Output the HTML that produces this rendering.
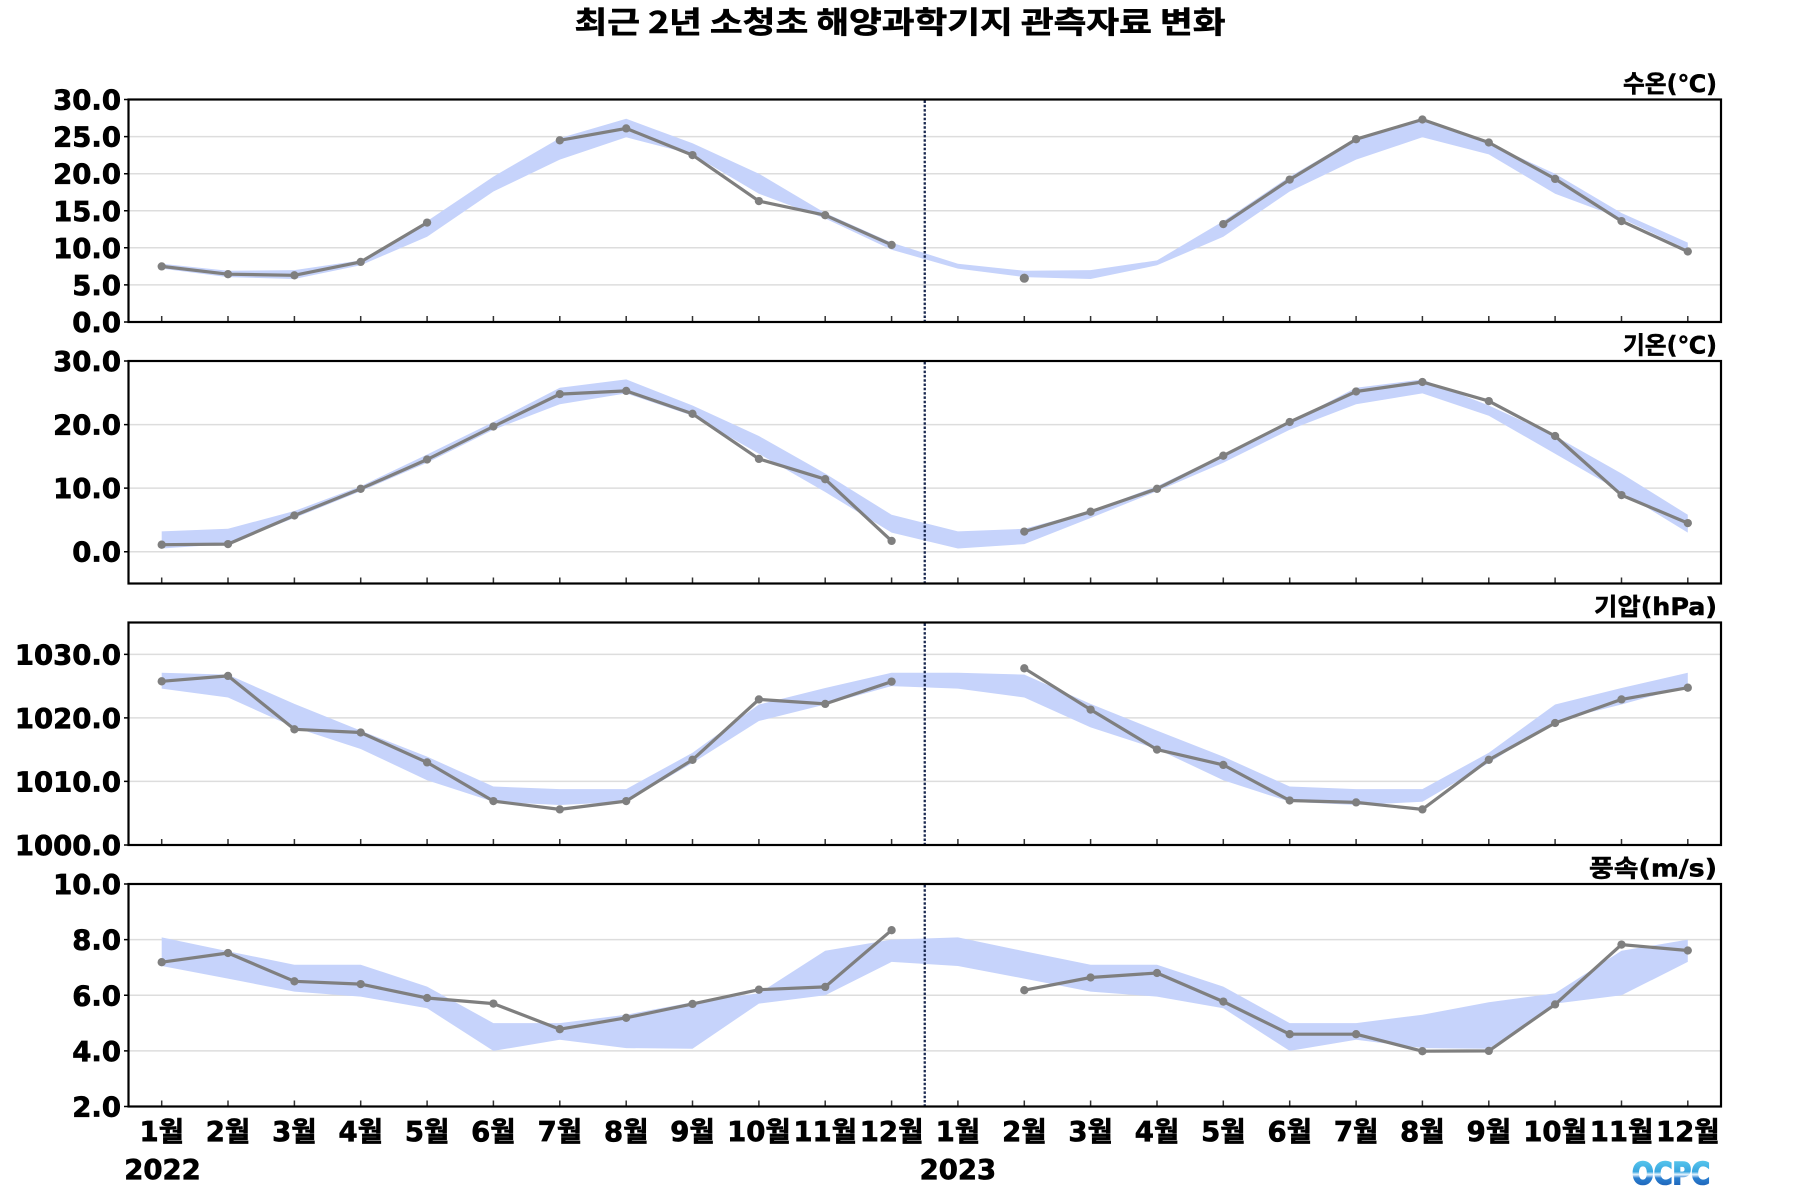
<!DOCTYPE html>
<html>
<head>
<meta charset="utf-8">
<style>
  html, body { margin:0; padding:0; background:#ffffff; }
  svg { display:block; }
  .lbl { font-family:"DejaVu Sans","Noto Sans CJK KR",sans-serif; font-weight:bold; fill:#000; stroke:#000; stroke-width:0.7; }
  .kr { font-family:"Noto Sans CJK KR","DejaVu Sans",sans-serif; font-weight:bold; fill:#000; stroke:#000; stroke-width:0.6; }
</style>
</head>
<body>
<svg width="1800" height="1200" viewBox="0 0 1800 1200" xmlns="http://www.w3.org/2000/svg">
  <defs>
    <marker id="m" viewBox="-5 -5 10 10" markerUnits="userSpaceOnUse" markerWidth="9" markerHeight="9" refX="0" refY="0">
      <circle r="4.6" fill="#7f7f7f"/>
    </marker>
    <g id="xt">
      <path d="M161.7 0v-6M228.0 0v-6M294.4 0v-6M360.7 0v-6M427.1 0v-6M493.4 0v-6M559.8 0v-6M626.2 0v-6M692.5 0v-6M758.9 0v-6M825.2 0v-6M891.6 0v-6M957.9 0v-6M1024.3 0v-6M1090.6 0v-6M1157.0 0v-6M1223.3 0v-6M1289.7 0v-6M1356.1 0v-6M1422.4 0v-6M1488.8 0v-6M1555.1 0v-6M1621.5 0v-6M1687.8 0v-6" stroke="#333" stroke-width="1.5" fill="none"/>
    </g>
    <linearGradient id="lg" x1="0" y1="0" x2="0" y2="1">
      <stop offset="0" stop-color="#5fd0f0"/>
      <stop offset="0.42" stop-color="#3aa6e0"/>
      <stop offset="0.5" stop-color="#e8f6ff"/>
      <stop offset="0.6" stop-color="#2a7fd0"/>
      <stop offset="1" stop-color="#1650a8"/>
    </linearGradient>
  </defs>

  <rect x="0" y="0" width="1800" height="1200" fill="#fff"/>

  <!-- Title -->
  <text class="kr" x="900" y="33" font-size="30" text-anchor="middle" textLength="651" lengthAdjust="spacingAndGlyphs">최근 2년 소청초 해양과학기지 관측자료 변화</text>

  <!-- Gridlines -->
  <g stroke="#dddddd" stroke-width="1.5">
    <line x1="128.5" x2="1721" y1="136.6" y2="136.6"/>
    <line x1="128.5" x2="1721" y1="173.7" y2="173.7"/>
    <line x1="128.5" x2="1721" y1="210.75" y2="210.75"/>
    <line x1="128.5" x2="1721" y1="247.8" y2="247.8"/>
    <line x1="128.5" x2="1721" y1="284.9" y2="284.9"/>

    <line x1="128.5" x2="1721" y1="424.6" y2="424.6"/>
    <line x1="128.5" x2="1721" y1="488.1" y2="488.1"/>
    <line x1="128.5" x2="1721" y1="551.7" y2="551.7"/>

    <line x1="128.5" x2="1721" y1="654.4" y2="654.4"/>
    <line x1="128.5" x2="1721" y1="717.9" y2="717.9"/>
    <line x1="128.5" x2="1721" y1="781.4" y2="781.4"/>

    <line x1="128.5" x2="1721" y1="939.6" y2="939.6"/>
    <line x1="128.5" x2="1721" y1="995.3" y2="995.3"/>
    <line x1="128.5" x2="1721" y1="1050.9" y2="1050.9"/>
  </g>

  <!-- Bands -->
  <g fill="#c6d3fb" stroke="none">
    <polygon points="161.7,263.8 228.0,270.8 294.4,270.1 360.7,260.4 427.1,221.1 493.4,176.6 559.8,138.1 626.2,118.8 692.5,143.3 758.9,173.7 825.2,213.0 891.6,242.6 957.9,263.8 1024.3,270.8 1090.6,270.1 1157.0,260.4 1223.3,221.1 1289.7,176.6 1356.1,138.1 1422.4,118.8 1488.8,143.3 1555.1,173.7 1621.5,213.0 1687.8,242.6 1687.8,249.7 1621.5,218.5 1555.1,193.7 1488.8,154.4 1422.4,137.3 1356.1,159.6 1289.7,191.5 1223.3,236.7 1157.0,265.3 1090.6,279.0 1024.3,277.1 957.9,268.6 891.6,249.7 825.2,218.5 758.9,193.7 692.5,154.4 626.2,137.3 559.8,159.6 493.4,191.5 427.1,236.7 360.7,265.3 294.4,279.0 228.0,277.1 161.7,268.6"/>
    <polygon points="161.7,531.4 228.0,528.8 294.4,511.0 360.7,486.2 427.1,454.5 493.4,422.0 559.8,387.7 626.2,379.4 692.5,405.5 758.9,436.0 825.2,473.5 891.6,514.8 957.9,531.4 1024.3,528.8 1090.6,511.0 1157.0,486.2 1223.3,454.5 1289.7,422.0 1356.1,387.7 1422.4,379.4 1488.8,405.5 1555.1,436.0 1621.5,473.5 1687.8,514.8 1687.8,532.6 1621.5,492.0 1555.1,453.8 1488.8,415.7 1422.4,393.4 1356.1,404.2 1289.7,429.7 1223.3,462.7 1157.0,491.3 1090.6,518.0 1024.3,544.1 957.9,548.5 891.6,532.6 825.2,492.0 758.9,453.8 692.5,415.7 626.2,393.4 559.8,404.2 493.4,429.7 427.1,462.7 360.7,491.3 294.4,518.0 228.0,544.1 161.7,548.5"/>
    <polygon points="161.7,672.7 228.0,674.6 294.4,703.9 360.7,730.6 427.1,756.6 493.4,786.5 559.8,789.1 626.2,789.1 692.5,752.8 758.9,704.5 825.2,688.0 891.6,672.7 957.9,672.7 1024.3,674.6 1090.6,703.9 1157.0,730.6 1223.3,756.6 1289.7,786.5 1356.1,789.1 1422.4,789.1 1488.8,752.8 1555.1,704.5 1621.5,688.0 1687.8,672.7 1687.8,686.1 1621.5,704.5 1555.1,721.0 1488.8,763.0 1422.4,801.8 1356.1,805.0 1289.7,801.8 1223.3,780.2 1157.0,749.0 1090.6,727.4 1024.3,697.5 957.9,688.6 891.6,686.1 825.2,704.5 758.9,721.0 692.5,763.0 626.2,801.8 559.8,805.0 493.4,801.8 427.1,780.2 360.7,749.0 294.4,727.4 228.0,697.5 161.7,688.6"/>
    <polygon points="161.7,937.4 228.0,951.3 294.4,964.7 360.7,964.7 427.1,986.6 493.4,1023.1 559.8,1023.1 626.2,1014.7 692.5,1002.2 758.9,993.3 825.2,950.8 891.6,939.6 957.9,937.4 1024.3,951.3 1090.6,964.7 1157.0,964.7 1223.3,986.6 1289.7,1023.1 1356.1,1023.1 1422.4,1014.7 1488.8,1002.2 1555.1,993.3 1621.5,950.8 1687.8,939.6 1687.8,961.9 1621.5,995.3 1555.1,1003.6 1488.8,1048.7 1422.4,1048.1 1356.1,1039.8 1289.7,1050.9 1223.3,1008.3 1157.0,996.6 1090.6,991.6 1024.3,978.6 957.9,966.0 891.6,961.9 825.2,995.3 758.9,1003.6 692.5,1048.7 626.2,1048.1 559.8,1039.8 493.4,1050.9 427.1,1008.3 360.7,996.6 294.4,991.6 228.0,978.6 161.7,966.0"/>
  </g>

  <!-- Dotted year separators -->
  <g stroke="#1a2850" stroke-width="2.3" stroke-dasharray="2.5 1.8">
    <line x1="924.75" x2="924.75" y1="100.5" y2="321"/>
    <line x1="924.75" x2="924.75" y1="362" y2="582.5"/>
    <line x1="924.75" x2="924.75" y1="623.5" y2="844"/>
    <line x1="924.75" x2="924.75" y1="885" y2="1105.5"/>
  </g>

  <!-- Series lines -->
  <g fill="none" stroke="#7f7f7f" stroke-width="3.2" stroke-linejoin="round" stroke-linecap="round" marker-start="url(#m)" marker-mid="url(#m)" marker-end="url(#m)">
    <polyline points="161.7,266.4 228.0,274.2 294.4,275.3 360.7,261.9 427.1,222.6"/>
    <polyline points="559.8,140.3 626.2,128.4 692.5,155.1 758.9,201.1 825.2,215.2 891.6,244.9"/>
    <polyline points="1223.3,224.1 1289.7,179.6 1356.1,139.2 1422.4,119.5 1488.8,142.5 1555.1,178.9 1621.5,221.1 1687.8,251.5"/>

    <polyline points="161.7,544.7 228.0,544.1 294.4,515.5 360.7,488.8 427.1,459.5 493.4,426.5 559.8,394.1 626.2,390.9 692.5,413.8 758.9,458.9 825.2,479.2 891.6,540.9"/>
    <polyline points="1024.3,531.6 1090.6,511.7 1157.0,488.8 1223.3,455.7 1289.7,422.0 1356.1,391.5 1422.4,382.0 1488.8,401.1 1555.1,436.0 1621.5,495.1 1687.8,523.1"/>

    <polyline points="161.7,681.3 228.0,675.9 294.4,729.3 360.7,732.5 427.1,762.4 493.4,801.1 559.8,809.4 626.2,801.1 692.5,759.8 758.9,699.4 825.2,703.9 891.6,681.6"/>
    <polyline points="1024.3,668.3 1090.6,709.6 1157.0,749.6 1223.3,764.9 1289.7,800.5 1356.1,802.4 1422.4,809.4 1488.8,759.8 1555.1,723.0 1621.5,699.4 1687.8,687.7"/>

    <polyline points="161.7,962.2 228.0,953.0 294.4,981.3 360.7,984.1 427.1,998.0 493.4,1003.6 559.8,1029.2 626.2,1017.8 692.5,1003.9 758.9,989.7 825.2,986.9 891.6,930.2"/>
    <polyline points="1024.3,990.2 1090.6,977.5 1157.0,973.0 1223.3,1001.6 1289.7,1034.2 1356.1,1034.2 1422.4,1051.2 1488.8,1050.9 1555.1,1004.4 1621.5,944.6 1687.8,950.5"/>
  </g>
  <circle cx="1024.3" cy="278.2" r="4.6" fill="#7f7f7f"/>

  <!-- X ticks -->
  <use href="#xt" x="0" y="322"/>
  <use href="#xt" x="0" y="583.5"/>
  <use href="#xt" x="0" y="845"/>
  <use href="#xt" x="0" y="1106.5"/>

  <!-- Y ticks -->
  <path d="M124 99.5h4.5M124 136.6h4.5M124 173.7h4.5M124 210.75h4.5M124 247.8h4.5M124 284.9h4.5M124 322h4.5
           M124 361h4.5M124 424.6h4.5M124 488.1h4.5M124 551.7h4.5
           M124 654.4h4.5M124 717.9h4.5M124 781.4h4.5M124 845h4.5
           M124 884h4.5M124 939.6h4.5M124 995.3h4.5M124 1050.9h4.5M124 1106.5h4.5" stroke="#000" stroke-width="1.5"/>

  <!-- Frames -->
  <g fill="none" stroke="#000" stroke-width="2.2">
    <rect x="128.5" y="99.5" width="1592.5" height="222.5"/>
    <rect x="128.5" y="361" width="1592.5" height="222.5"/>
    <rect x="128.5" y="622.5" width="1592.5" height="222.5"/>
    <rect x="128.5" y="884" width="1592.5" height="222.5"/>
  </g>

  <!-- Y tick labels -->
  <g class="lbl" font-size="27.5" text-anchor="end">
    <text x="121" y="109.5">30.0</text>
    <text x="121" y="146.6">25.0</text>
    <text x="121" y="183.7">20.0</text>
    <text x="121" y="220.75">15.0</text>
    <text x="121" y="257.8">10.0</text>
    <text x="121" y="294.9">5.0</text>
    <text x="121" y="332">0.0</text>

    <text x="121" y="371">30.0</text>
    <text x="121" y="434.6">20.0</text>
    <text x="121" y="498.1">10.0</text>
    <text x="121" y="561.7">0.0</text>

    <text x="121" y="664.4">1030.0</text>
    <text x="121" y="727.9">1020.0</text>
    <text x="121" y="791.4">1010.0</text>
    <text x="121" y="855">1000.0</text>

    <text x="121" y="894">10.0</text>
    <text x="121" y="949.6">8.0</text>
    <text x="121" y="1005.3">6.0</text>
    <text x="121" y="1060.9">4.0</text>
    <text x="121" y="1116.5">2.0</text>
  </g>

  <!-- Panel labels -->
  <g class="lbl" font-size="24" text-anchor="end" style="stroke-width:0.5">
    <text x="1717" y="92" textLength="94" lengthAdjust="spacingAndGlyphs">수온(℃)</text>
    <text x="1717" y="353.5" textLength="94" lengthAdjust="spacingAndGlyphs">기온(℃)</text>
    <text x="1717" y="615" textLength="123" lengthAdjust="spacingAndGlyphs">기압(hPa)</text>
    <text x="1717" y="876.5" textLength="128" lengthAdjust="spacingAndGlyphs">풍속(m/s)</text>
  </g>

  <!-- X tick labels -->
  <g class="lbl" font-size="27.5" text-anchor="middle">
    <text x="161.7" y="1141">1월</text>
    <text x="228.0" y="1141">2월</text>
    <text x="294.4" y="1141">3월</text>
    <text x="360.7" y="1141">4월</text>
    <text x="427.1" y="1141">5월</text>
    <text x="493.4" y="1141">6월</text>
    <text x="559.8" y="1141">7월</text>
    <text x="626.2" y="1141">8월</text>
    <text x="692.5" y="1141">9월</text>
    <text x="758.9" y="1141">10월</text>
    <text x="825.2" y="1141">11월</text>
    <text x="891.6" y="1141">12월</text>
    <text x="957.9" y="1141">1월</text>
    <text x="1024.3" y="1141">2월</text>
    <text x="1090.6" y="1141">3월</text>
    <text x="1157.0" y="1141">4월</text>
    <text x="1223.3" y="1141">5월</text>
    <text x="1289.7" y="1141">6월</text>
    <text x="1356.1" y="1141">7월</text>
    <text x="1422.4" y="1141">8월</text>
    <text x="1488.8" y="1141">9월</text>
    <text x="1555.1" y="1141">10월</text>
    <text x="1621.5" y="1141">11월</text>
    <text x="1687.8" y="1141">12월</text>
    <text x="162.5" y="1179">2022</text>
    <text x="957.9" y="1179">2023</text>
  </g>

  <!-- Logo -->
  <text x="1632" y="1184" font-family="'DejaVu Sans',sans-serif" font-weight="bold" font-size="30" fill="url(#lg)" stroke="url(#lg)" stroke-width="1.6" textLength="78" lengthAdjust="spacingAndGlyphs">OCPC</text>
</svg>
</body>
</html>
